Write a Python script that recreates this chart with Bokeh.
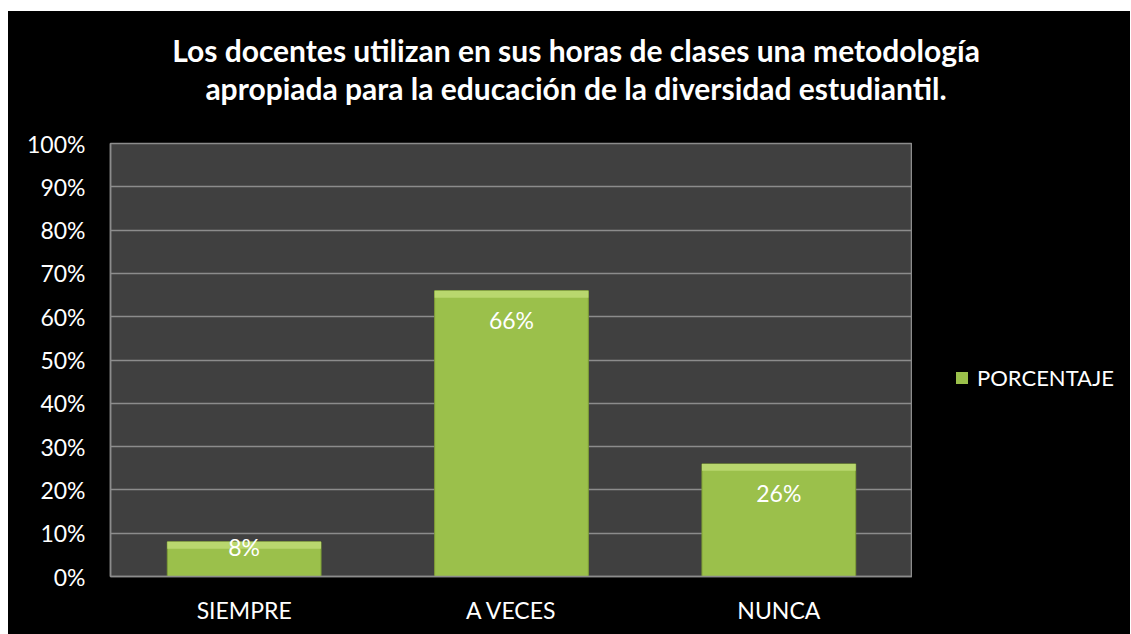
from bokeh.plotting import figure
from bokeh.models import (ColumnDataSource, FactorRange, Range1d, FixedTicker,
                          PrintfTickFormatter, Legend, LegendItem, LabelSet, Div)
from bokeh.layouts import column, row
from bokeh.core.properties import value
from bokeh.embed import file_html
from bokeh.resources import INLINE

categories = ["SIEMPRE", "A VECES", "NUNCA"]
porcentaje = [8, 66, 26]
value_labels = ["8%", "66%", "26%"]
y_ticks = [0, 10, 20, 30, 40, 50, 60, 70, 80, 90, 100]
title_lines = ["Los docentes utilizan en sus horas de clases una metodología",
               "apropiada para la educación de la diversidad estudiantil."]
series_name = "PORCENTAJE"

FONT = "Lato"
TOTAL_W = 1122
DIV_H = 110
H = 513
B_LEFT, B_TOP, B_BOTTOM = 102, 22, 58
FRAME_W = 802
W_MAIN = B_LEFT + FRAME_W
W_LEG = TOTAL_W - W_MAIN
frame_h = H - B_TOP - B_BOTTOM
px_per_unit = frame_h / 100.0
BAR_FILL, BAR_LINE, BEVEL_FILL = "#9bc04b", "#7f9f36", "#b9d76e"

title_div = Div(
    text=('<div style="width:%dpx;padding-top:20px;padding-left:14px;box-sizing:border-box;'
          'text-align:center;color:white;font-family:%s;font-weight:bold;'
          'font-size:30px;line-height:38px;white-space:nowrap;">%s<br>%s</div>')
         % (TOTAL_W, FONT, title_lines[0], title_lines[1]),
    width=TOTAL_W, height=DIV_H,
    styles={"background-color": "black", "margin": "0", "padding": "0"})

p = figure(width=W_MAIN, height=H,
           x_range=FactorRange(factors=categories, range_padding=0),
           y_range=Range1d(0, 100),
           output_backend="svg", toolbar_location=None,
           min_border_left=B_LEFT, min_border_right=0,
           min_border_top=B_TOP, min_border_bottom=B_BOTTOM)

p.border_fill_color = "black"
p.background_fill_color = "#404040"
p.outline_line_color = "#8c8c8c"
p.outline_line_width = 1.5

# label offsets (screen px below the bar top), derived from values
offs = [min(29.0, v * px_per_unit - 30.0) for v in porcentaje]
bevel = [min(1.6, v * 0.2) for v in porcentaje]
src = ColumnDataSource(dict(cat=categories, val=porcentaje, lbl=value_labels,
                            off=[-o for o in offs],
                            bev=[v - b for v, b in zip(porcentaje, bevel)]))

p.vbar(x="cat", top="val", width=0.575, source=src,
       fill_color=BAR_FILL, line_color=BAR_LINE, line_width=1)
p.vbar(x="cat", top="val", bottom="bev", width=0.575, source=src,
       fill_color=BEVEL_FILL, line_color=None)

labels = LabelSet(x="cat", y="val", text="lbl", source=src, y_offset="off",
                  text_align="center", text_baseline="middle",
                  text_color="white", text_font=value(FONT),
                  text_font_size=value("23px"))
p.add_layout(labels)

p.yaxis.ticker = FixedTicker(ticks=y_ticks)
p.yaxis.formatter = PrintfTickFormatter(format="%d%%")
for ax in (p.xaxis[0], p.yaxis[0]):
    ax.major_tick_line_color = None
    ax.minor_tick_line_color = None
    ax.axis_line_color = "#8c8c8c"
    ax.axis_line_width = 1.5
    ax.major_label_text_color = "white"
    ax.major_label_text_font = FONT
    ax.major_label_text_font_size = "23px"
p.yaxis.major_label_standoff = 19
p.xaxis.major_label_standoff = 13

p.xgrid.grid_line_color = None
p.ygrid.grid_line_color = "#8c8c8c"
p.ygrid.grid_line_width = 1.5

# legend panel (separate small figure to the right of the plot area);
# its zero-width bars lie outside the visible y-range, only the legend swatch shows
lf = figure(width=W_LEG, height=H, output_backend="svg", toolbar_location=None,
            x_range=FactorRange(factors=categories), y_range=Range1d(-200, -100),
            x_axis_location=None, y_axis_location=None,
            min_border_left=0, min_border_right=0, min_border_top=0, min_border_bottom=0)
lf.border_fill_color = "black"
lf.background_fill_color = "black"
lf.outline_line_color = None
lf.xgrid.visible = False
lf.ygrid.visible = False
leg_r = lf.vbar(x="cat", top="val", bottom=0, width=0.0, source=src,
                fill_color=BAR_FILL, line_color=None)

legend = Legend(items=[LegendItem(label=series_name, renderers=[leg_r])],
                location=(42, 185), orientation="vertical",
                glyph_width=15, glyph_height=15, label_height=15,
                label_standoff=8, padding=0, margin=0, spacing=0,
                border_line_color=None, background_fill_alpha=0,
                label_text_color="white", label_text_font=FONT,
                label_text_font_size="22px")
lf.add_layout(legend)

layout = column(title_div, row(p, lf, spacing=0), spacing=0,
                margin=(11, 1, 0, 8), styles={"background-color": "black"})

open("out.html", "w").write(file_html(layout, INLINE))
